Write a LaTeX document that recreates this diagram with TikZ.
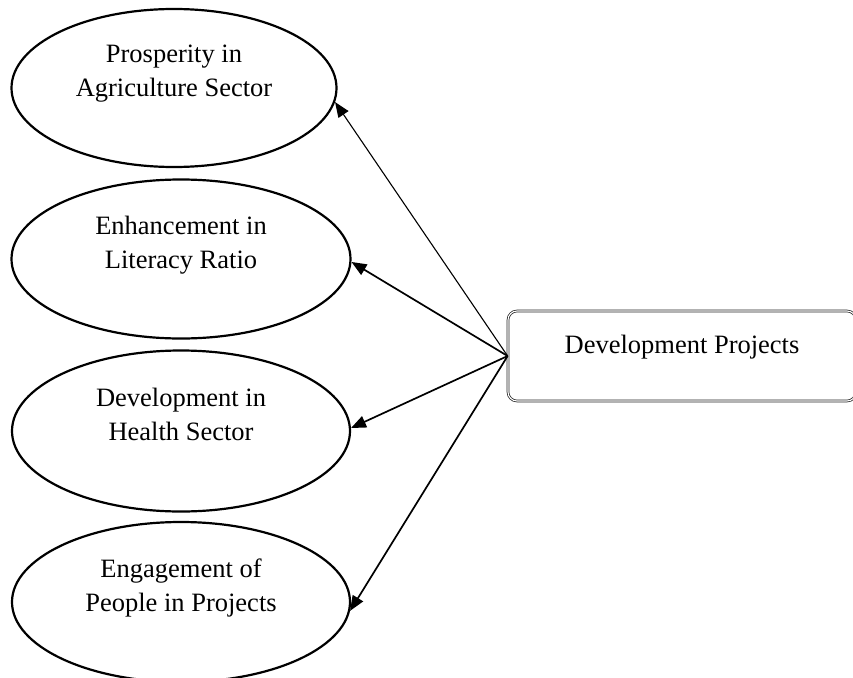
\documentclass[tikz,border=0pt]{standalone}
\usepackage{fontspec}
\setmainfont{Liberation Serif}
\usetikzlibrary{shapes.geometric,arrows.meta}
\begin{document}
\begin{tikzpicture}[x=1pt,y=-1pt,
  oval/.style={ellipse, draw, line width=2.2pt, align=center, inner sep=0pt,
    font=\fontsize{26.5}{34}\selectfont},
  projbox/.style={rectangle, rounded corners=9pt, draw=black!85, double, double distance=1.1pt,
    line width=0.75pt, align=center, font=\fontsize{26.5}{34}\selectfont,
    minimum width=348pt, minimum height=90pt, inner sep=0pt},
  conn/.style={line width=1.7pt, -{Triangle[length=15pt,width=12pt]}}]
\clip (0,0) rectangle (853,677);
\fill[white] (0,0) rectangle (853,677);
\node[oval, minimum width=325pt, minimum height=158pt] (e1) at (174,88)
  {Prosperity in\\Agriculture Sector\\[-10pt]\strut};
\node[oval, minimum width=339pt, minimum height=159pt] (e2) at (181,259)
  {Enhancement in\\Literacy Ratio\\[-10pt]\strut};
\node[oval, minimum width=338pt, minimum height=161pt] (e3) at (181,431)
  {Development in\\Health Sector\\[-10pt]\strut};
\node[oval, minimum width=338pt, minimum height=160pt] (e4) at (181,602)
  {Engagement of\\People in Projects\\[-10pt]\strut};
\node[projbox] (dp) at (682,356) {Development Projects\\[-20pt]\strut};
\draw[conn, line width=1.1pt] (dp.west) -- (e1.-5);
\draw[conn] (dp.west) -- (e2.-1);
\draw[conn] (dp.west) -- (e3.1);
\draw[conn] (dp.west) -- (e4.-3);
\end{tikzpicture}
\end{document}
